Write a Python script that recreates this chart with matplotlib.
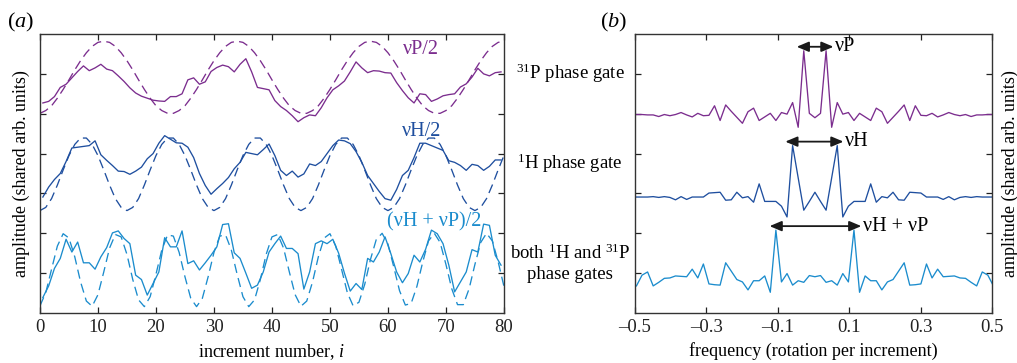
import numpy as np
import matplotlib
matplotlib.use("Agg")
import matplotlib.pyplot as plt

plt.rcParams['font.family'] = ['Liberation Serif', 'DejaVu Serif']
plt.rcParams['mathtext.fontset'] = 'custom'
plt.rcParams['mathtext.rm'] = 'Liberation Serif'
plt.rcParams['mathtext.it'] = 'Liberation Serif:italic'

# colours of the three experiments
c_p = '#7b2d8e'
c_h = '#1f4f9f'
c_b = '#1b8ccd'

# ---- panel (a): measured signal (sampled at half increments) ----
t_meas = np.arange(80) + 0.5
sig_p = [5.27, 5.31, 5.43, 5.66, 5.74, 5.90, 6.06, 6.20, 6.08, 6.15,
         6.24, 6.12, 6.08, 5.95, 5.81, 5.65, 5.52, 5.44, 5.39, 5.34,
         5.32, 5.31, 5.43, 5.43, 5.50, 5.85, 5.90, 5.74, 5.80, 6.06,
         6.16, 6.22, 6.18, 6.05, 6.24, 6.38, 6.05, 5.66, 5.63, 5.60,
         5.33, 5.18, 5.08, 4.95, 4.80, 4.90, 4.97, 4.95, 5.15, 5.40,
         5.60, 5.70, 5.82, 6.05, 6.30, 6.15, 6.03, 6.08, 6.07, 6.03,
         6.02, 5.78, 5.58, 5.40, 5.27, 5.50, 5.48, 5.31, 5.37, 5.45,
         5.48, 5.50, 5.67, 5.75, 5.92, 6.14, 6.00, 5.95, 6.03, 6.05]
sig_h = [2.91, 3.16, 3.35, 3.50, 3.80, 4.14, 4.16, 4.18, 4.20, 4.32,
         3.97, 3.83, 3.70, 3.56, 3.55, 3.48, 3.56, 3.66, 3.87, 4.00,
         4.26, 4.45, 4.36, 4.27, 4.26, 4.16, 3.90, 3.50, 3.20, 2.98,
         3.12, 3.25, 3.40, 3.62, 3.78, 4.03, 4.00, 3.97, 4.10, 4.24,
         3.95, 3.58, 3.45, 3.56, 3.41, 3.49, 3.74, 3.70, 3.80, 4.00,
         4.20, 4.34, 4.32, 4.25, 4.05, 3.78, 3.45, 3.25, 3.05, 2.87,
         2.83, 3.10, 3.45, 3.58, 3.90, 4.26, 4.26, 4.20, 4.14, 4.08,
         3.82, 3.78, 3.70, 3.58, 3.73, 3.70, 3.58, 3.68, 3.84, 3.84]
sig_b = [0.39, 0.68, 1.12, 1.37, 1.85, 1.53, 1.78, 1.26, 1.26, 1.10,
         1.41, 1.64, 2.01, 2.06, 1.87, 1.74, 0.95, 0.84, 0.45, 0.74,
         1.03, 1.89, 1.66, 1.66, 2.06, 1.24, 1.31, 1.08, 1.26, 1.45,
         1.66, 2.22, 2.24, 1.51, 1.37, 1.00, 0.62, 0.70, 1.03, 1.53,
         1.74, 1.93, 1.62, 1.62, 1.49, 0.60, 1.03, 1.74, 1.81, 1.74,
         1.85, 1.50, 1.00, 0.55, 0.74, 0.59, 1.37, 1.28, 1.53, 1.91,
         1.49, 1.03, 0.76, 0.99, 1.45, 1.28, 1.60, 2.08, 1.99, 1.74,
         1.20, 0.53, 0.78, 1.03, 1.59, 1.53, 2.23, 2.20, 1.45, 1.20]

# expected (dashed) curves, read at every increment
t_fit = np.arange(81)
fit_p = [5.01, 5.08, 5.20, 5.39, 5.61, 5.85, 6.10, 6.33, 6.53, 6.69, 6.79, 6.82,
         6.79, 6.69, 6.53, 6.33, 6.10, 5.85, 5.61, 5.39, 5.20, 5.08, 5.01,
         5.01, 5.08, 5.20, 5.39, 5.61, 5.85, 6.10, 6.33, 6.53, 6.69, 6.79, 6.82,
         6.79, 6.69, 6.53, 6.33, 6.10, 5.85, 5.61, 5.39, 5.20, 5.08, 5.01,
         5.01, 5.08, 5.20, 5.39, 5.61, 5.85, 6.10, 6.33, 6.53, 6.69, 6.79, 6.82,
         6.79, 6.69, 6.53, 6.33, 6.10, 5.85, 5.61, 5.39, 5.20, 5.08, 5.01,
         5.01, 5.08, 5.20, 5.39, 5.61, 5.85, 6.10, 6.33, 6.53, 6.69, 6.79, 6.82]
fit_h = [2.57, 2.65, 2.87, 3.21, 3.59, 3.95, 4.23, 4.39, 4.39, 4.23, 3.95, 3.59, 3.21, 2.87, 2.65,
         2.57, 2.65, 2.87, 3.21, 3.59, 3.95, 4.23, 4.39, 4.39, 4.23, 3.95, 3.59, 3.21, 2.87, 2.65,
         2.57, 2.65, 2.87, 3.21, 3.59, 3.95, 4.23, 4.39, 4.39, 4.23, 3.95, 3.59, 3.21, 2.87, 2.65,
         2.57, 2.65, 2.87, 3.21, 3.59, 3.95, 4.23, 4.39, 4.39, 4.23, 3.95, 3.59, 3.21, 2.87, 2.65,
         2.57, 2.65, 2.87, 3.21, 3.59, 3.95, 4.23, 4.39, 4.39, 4.23, 3.95, 3.59, 3.21, 2.87, 2.65,
         2.57, 2.65, 2.87, 3.21, 3.59, 3.95]
fit_b = [0.18, 0.51, 1.10, 1.68, 1.99, 1.88, 1.41, 0.78, 0.30, 0.17,
         0.46, 1.03, 1.63, 1.97, 1.91, 1.47, 0.84, 0.33, 0.16, 0.41,
         0.97, 1.58, 1.96, 1.93, 1.52, 0.91, 0.37, 0.16, 0.37, 0.91,
         1.52, 1.93, 1.96, 1.58, 0.97, 0.41, 0.16, 0.33, 0.84, 1.47,
         1.91, 1.97, 1.63, 1.03, 0.46, 0.17, 0.30, 0.78, 1.41, 1.88,
         1.99, 1.68, 1.10, 0.51, 0.18, 0.27, 0.72, 1.35, 1.85, 2.00,
         1.73, 1.16, 0.56, 0.20, 0.24, 0.67, 1.28, 1.81, 2.00, 1.77,
         1.22, 0.61, 0.21, 0.21, 0.61, 1.22, 1.77, 2.00, 1.81, 1.29,
         0.67]

# ---- panel (b): spectra ----
freq = np.arange(-32, 33) / 64 + 0.004
spec_p = [4.98, 4.98, 4.97, 4.97, 4.93, 4.98, 4.95, 4.98, 5.03, 4.97, 4.92,
          5.01, 4.95, 4.96, 5.20, 4.83, 5.22, 5.06, 4.91, 4.76, 5.05, 5.14,
          4.83, 4.92, 5.01, 4.83, 5.03, 4.99, 5.28, 4.66, 6.58, 5.01,
          4.90,
          5.01, 6.58, 4.66, 5.28, 4.99, 5.03, 4.83, 5.01, 4.92, 4.83, 5.14,
          5.05, 4.76, 4.91, 5.06, 5.22, 4.83, 5.20, 4.96, 4.95, 5.01, 4.92,
          4.97, 5.03, 4.98, 4.95, 4.98, 4.93, 4.97, 4.97, 4.98, 4.98]
spec_h = [2.91, 2.91, 2.91, 2.92, 2.90, 2.92, 2.90, 2.84, 2.92, 2.85, 2.91,
          2.91, 2.91, 3.01, 3.02, 3.03, 2.83, 2.84, 3.03, 2.89, 2.92, 2.78,
          3.24, 2.80, 2.80, 2.80, 2.68, 2.41, 4.20, 3.39, 2.58, 2.80,
          3.03,
          2.80, 2.58, 3.39, 4.20, 2.41, 2.68, 2.80, 2.80, 2.80, 3.24, 2.78,
          2.92, 2.89, 3.03, 2.84, 2.83, 3.03, 3.02, 3.01, 2.91, 2.91, 2.91,
          2.85, 2.92, 2.84, 2.90, 2.92, 2.90, 2.92, 2.91, 2.91, 2.91]
spec_b = [0.68, 0.95, 1.03, 0.68, 0.77, 0.87, 0.88, 0.93, 0.92, 0.91, 1.10,
          0.88, 1.23, 0.73, 0.71, 0.70, 1.26, 1.05, 0.84, 0.78, 0.58, 0.81,
          0.81, 0.93, 0.52, 2.08, 0.78, 0.99, 0.70, 0.81, 0.77, 0.94,
          0.91,
          0.94, 0.77, 0.81, 0.70, 0.99, 0.78, 2.08, 0.52, 0.93, 0.81, 0.81,
          0.58, 0.78, 0.84, 1.05, 1.26, 0.70, 0.71, 0.73, 1.23, 0.88, 1.10,
          0.91, 0.92, 0.93, 0.88, 0.87, 0.77, 0.68, 1.03, 0.95, 0.68]

# double arrows marking the peak separation: (left, right, height, label)
arrows = [(-0.047, 0.056, 6.68, 'νP'),
          (-0.079, 0.084, 4.30, 'νH'),
          (-0.123, 0.134, 2.18, 'νH + νP')]

xt_a = [0, 10, 20, 30, 40, 50, 60, 70, 80]
xt_b = [-0.5, -0.3, -0.1, 0.1, 0.3, 0.5]
xt_b_lab = ['–0.5', '–0.3', '–0.1', '0.1', '0.3', '0.5']
yt = [1, 2, 3, 4, 5, 6]

fig = plt.figure(figsize=(10.17, 3.63), dpi=100)
ax1 = fig.add_axes([0.0393, 0.1377, 0.4562, 0.7686])
ax2 = fig.add_axes([0.6244, 0.1377, 0.3510, 0.7686])

for ax in (ax1, ax2):
    ax.set_ylim(0, 7)
    ax.set_yticks(yt)
    ax.set_yticklabels([])
    ax.tick_params(direction='in', top=True, right=True, length=4,
                   width=0.9, labelsize=13.5, colors='#222222', pad=4)
    for s in ax.spines.values():
        s.set_linewidth(1.0)
        s.set_color('#333333')

# panel a
for y, c in ((sig_p, c_p), (sig_h, c_h), (sig_b, c_b)):
    ax1.plot(t_meas, y, color=c, lw=0.95)
for y, c in ((fit_p, c_p), (fit_h, c_h), (fit_b, c_b)):
    ax1.plot(t_fit, y, color=c, lw=0.95, dashes=(7, 4))
ax1.set_xlim(0, 80)
ax1.set_xticks(xt_a)
ax1.set_xlabel('increment number, $i$', fontsize=13, labelpad=5)
ax1.set_ylabel('amplitude (shared arb. units)', fontsize=13)
ax1.yaxis.set_label_coords(-0.022, 0.5)
ax1.text(65.7, 6.62, 'νP/2', color=c_p, fontsize=14.5, ha='center', va='center')
ax1.text(65.9, 4.55, 'νH/2', color=c_h, fontsize=14.5, ha='center', va='center')
ax1.text(67.9, 2.28, '(νH + νP)/2', color=c_b, fontsize=14.5, ha='center', va='center')

# panel b
for y, c in ((spec_p, c_p), (spec_h, c_h), (spec_b, c_b)):
    ax2.plot(freq, y, color=c, lw=0.95)
for x0, x1, yy, lab in arrows:
    ax2.annotate('', xy=(x1, yy), xytext=(x0, yy),
                 arrowprops=dict(arrowstyle='<|-|>,head_length=0.45,head_width=0.19',
                                 color='#1a1a1a', lw=1.3,
                                 shrinkA=0, shrinkB=0, mutation_scale=16))
    ax2.text(x1 + 0.004, yy, lab, fontsize=14.5, ha='left', va='center')
ax2.set_xlim(-0.5, 0.5)
ax2.set_xticks(xt_b)
ax2.set_xticklabels(xt_b_lab)
ax2.set_xlabel('frequency (rotation per increment)', fontsize=13, labelpad=5)
ax2.yaxis.set_label_position('right')
ax2.set_ylabel('amplitude (shared arb. units)', fontsize=13, labelpad=7)

# row labels between the panels
fig.text(0.5605, 0.799, '$^{31}$P phase gate', fontsize=13.5, ha='center', va='center')
fig.text(0.5605, 0.551, '$^{1}$H phase gate', fontsize=13.5, ha='center', va='center')
fig.text(0.5605, 0.274, 'both $^{1}$H and $^{31}$P\nphase gates', fontsize=13.5,
         ha='center', va='center', linespacing=1.25)

fig.text(0.0206, 0.939, '($a$)', fontsize=16, ha='center', va='center')
fig.text(0.603, 0.939, '($b$)', fontsize=16, ha='center', va='center')

fig.savefig('out.png', dpi=100)
